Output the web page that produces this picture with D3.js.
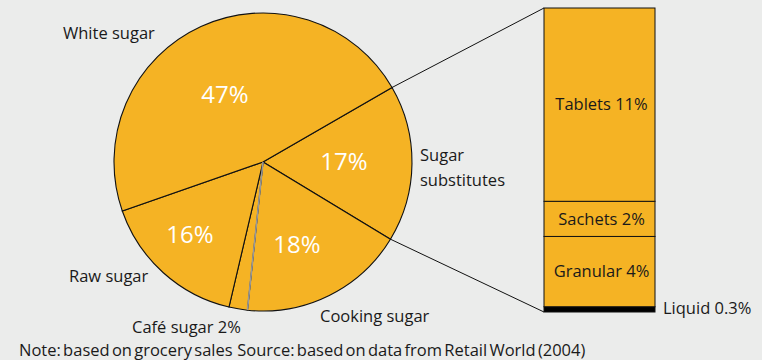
<!DOCTYPE html>
<html>
<head>
<meta charset="utf-8"/>
<title>Sugar sales</title>
<script src="https://cdnjs.cloudflare.com/ajax/libs/d3/7.8.5/d3.min.js"></script>
<style>
  body{margin:0;background:#ebeceb;}
  svg{display:block;font-family:"Open Sans","Noto Sans",sans-serif;}
  text{fill:#1a1a1a;}
</style>
</head>
<body>
<svg id="chart" width="762" height="360"></svg>
<script>
// pie slices, clockwise from the substitutes wedge
var sliceNames = ["Sugar substitutes", "Cooking sugar", "Café sugar", "Raw sugar", "White sugar"];
var sliceValues = [17, 18, 2, 16, 47];
var slicePct = ["17%", "18%", "", "16%", "47%"];

// breakdown of sugar substitutes, bottom to top
var subNames = ["Liquid", "Granular", "Sachets", "Tablets"];
var subValues = [0.3, 4, 2, 11];
var subLabels = ["Liquid 0.3%", "Granular 4%", "Sachets 2%", "Tablets 11%"];

var orange = "#f5b324";
var fs = "16.5px";
var svg = d3.select("#chart");

var cx = 263, cy = 162, r = 149;
var start = 60 * Math.PI / 180;
var pie = d3.pie().sort(null).startAngle(start).endAngle(start + 2 * Math.PI);
var arcs = pie(sliceValues);
var arc = d3.arc().innerRadius(0).outerRadius(r);

var g = svg.append("g").attr("transform", "translate(" + cx + "," + cy + ")");
g.selectAll("path").data(arcs).enter().append("path")
    .attr("d", arc)
    .attr("fill", orange)
    .attr("stroke", "#111")
    .attr("stroke-width", 1.1);

// grey divider between cooking and café sugar
var a = arcs[1].endAngle;
g.append("line")
    .attr("x1", 0).attr("y1", 0)
    .attr("x2", r * Math.sin(a)).attr("y2", -r * Math.cos(a))
    .attr("stroke", "#999").attr("stroke-width", 1.6);

// percentage labels inside
var pctPos = [[81, 0], [34, 83], null, [-73, 73], [-38, -67]];
arcs.forEach(function(d, i){
  if (!pctPos[i]) return;
  g.append("text")
    .attr("x", pctPos[i][0]).attr("y", pctPos[i][1])
    .attr("text-anchor", "middle").attr("dy", "0.35em")
    .style("font-size", "24px").style("fill", "#fff")
    .text(slicePct[i]);
});

// outer labels
var outer = [
  {t: ["Sugar", "substitutes"], x: 420, y: 155},
  {t: ["Cooking sugar"], x: 320, y: 316},
  {t: ["Café sugar 2%"], x: 132, y: 327},
  {t: ["Raw sugar"], x: 69, y: 276},
  {t: ["White sugar"], x: 63, y: 33}
];
outer.forEach(function(o){
  var t = svg.append("text").attr("x", o.x).attr("y", o.y)
    .style("font-size", fs);
  o.t.forEach(function(line, k){
    t.append("tspan").attr("x", o.x).attr("dy", k == 0 ? "0.35em" : "1.5em").text(line);
  });
});

// stacked bar
var bx = 544, bw = 111;
var y = d3.scaleLinear().domain([0, d3.sum(subValues)]).range([312, 8]);
var cum = 0;
var segs = subValues.map(function(v, i){
  var s = {name: subNames[i], label: subLabels[i], y0: cum, y1: cum + v};
  cum += v;
  return s;
});
var bar = svg.append("g");
bar.selectAll("rect").data(segs).enter().append("rect")
    .attr("x", bx).attr("width", bw)
    .attr("y", function(d){ return y(d.y1); })
    .attr("height", function(d){ return y(d.y0) - y(d.y1); })
    .attr("fill", function(d, i){ return i == 0 ? "#000" : orange; })
    .attr("stroke", "#111").attr("stroke-width", 1);

bar.selectAll("text.seg").data(segs.slice(1)).enter().append("text")
    .attr("class", "seg")
    .attr("x", bx + bw / 2 + 2)
    .attr("y", function(d){ return (y(d.y0) + y(d.y1)) / 2; })
    .attr("dy", "0.35em").attr("text-anchor", "middle")
    .style("font-size", fs)
    .text(function(d){ return d.label; });

svg.append("text").attr("x", 663).attr("y", y(segs[0].y1) + 1)
    .attr("dy", "0.35em").style("font-size", fs).text(segs[0].label);

// connector lines from pie edge to bar corners
var angTop = arcs[0].startAngle, angBot = arcs[0].endAngle;
svg.append("line")
    .attr("x1", cx + r * Math.sin(angTop)).attr("y1", cy - r * Math.cos(angTop))
    .attr("x2", bx).attr("y2", y(d3.sum(subValues)))
    .attr("stroke", "#111").attr("stroke-width", 1);
svg.append("line")
    .attr("x1", cx + r * Math.sin(angBot)).attr("y1", cy - r * Math.cos(angBot))
    .attr("x2", bx).attr("y2", y(0))
    .attr("stroke", "#111").attr("stroke-width", 1);

svg.append("text").attr("x", 19).attr("y", 350).attr("dy", "0.35em")
    .style("font-size", fs).style("word-spacing", "-2px").style("white-space", "pre")
    .text("Note: based on grocery sales  Source: based on data from Retail World (2004)");
</script>
</body>
</html>
